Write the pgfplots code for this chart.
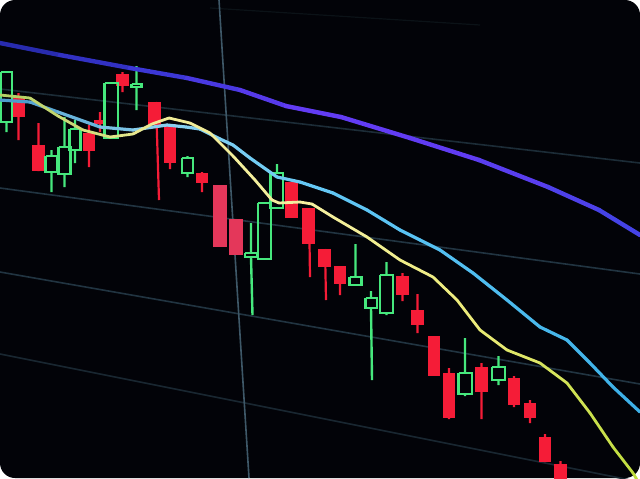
\documentclass[border=0pt]{standalone}
\usepackage{pgfplots}
\pgfplotsset{compat=1.18}
\definecolor{bg}{RGB}{2,3,8}
\definecolor{gridc}{RGB}{33,52,65}
\definecolor{gridv}{RGB}{62,88,104}
\definecolor{candred}{RGB}{245,28,55}
\definecolor{candpink}{RGB}{228,55,90}
\definecolor{candgreen}{RGB}{70,232,125}
\begin{document}
\begin{tikzpicture}
\begin{axis}[width=320pt,height=239pt,scale only axis,
  xmin=0,xmax=640,ymin=0,ymax=478,y dir=reverse,
  hide axis,clip=true,unbounded coords=jump]
\fill[bg, rounded corners=7.5pt] (rel axis cs:0,0) rectangle (rel axis cs:1,1);
% grid lines
\addplot[gridc!35!black, line width=0.6pt] coordinates {(210,8)(480,25)};
\addplot[gridc!85!black, line width=0.8pt] coordinates {(0,89)(640,163)};
\addplot[gridc, line width=0.8pt] coordinates {(0,188)(640,274)};
\addplot[gridc, line width=0.8pt] coordinates {(0,272)(640,384)};
\addplot[gridc!75!black, line width=0.8pt] coordinates {(0,354)(640,482)};
\addplot[gridv, line width=0.8pt] coordinates {(219,0)(249,478)};
% red wicks
\addplot[candred, line width=1.1pt] coordinates {
(18.5,93)(18.5,140)(0,nan)
(38.5,123)(38.5,171)(0,nan)
(89,125)(89,167)(0,nan)
(100,112)(100,132)(0,nan)
(122.5,72)(122.5,92)(0,nan)
(156,102)(159,200)(0,nan)
(170,124)(170,169)(0,nan)
(202,172)(202,192)(0,nan)
(309,208)(310,277)(0,nan)
(325,249)(326,300)(0,nan)
(340,266)(340,295)(0,nan)
(402.5,273)(402.5,301)(0,nan)
(417.5,294)(417.5,333)(0,nan)
(449,368)(449,419)(0,nan)
(481.5,363)(481.5,419)(0,nan)
(514,376)(514,407)(0,nan)
(530,400)(530,423)(0,nan)
(545,434)(545,462)(0,nan)
(560.5,461)(560.5,480)};
% red bodies
\addplot[candred, line width=6.4pt, line cap=butt] coordinates {
(18.5,96)(18.5,117)(0,nan)
(38.5,145)(38.5,171)(0,nan)
(89,133)(89,151)(0,nan)
(100,120)(100,123.5)(0,nan)
(122.5,74)(122.5,86)(0,nan)
(154.5,102)(154.5,125)(0,nan)
(170,124)(170,163)(0,nan)
(202,173)(202,183)(0,nan)
(291.5,182)(291.5,218)(0,nan)
(308.5,208)(308.5,244)(0,nan)
(324.5,249)(324.5,267)(0,nan)
(340,266)(340,284)(0,nan)
(402.5,276)(402.5,295)(0,nan)
(417.5,310)(417.5,325)(0,nan)
(434,336)(434,376)(0,nan)
(449,373)(449,418)(0,nan)
(481.5,367)(481.5,392)(0,nan)
(514,378)(514,405)(0,nan)
(530,403)(530,418)(0,nan)
(545,437)(545,462)(0,nan)
(560.5,464)(560.5,480)};
\addplot[candpink, line width=7pt, line cap=butt] coordinates {
(219.5,185)(219.5,247)(0,nan)
(235.5,219)(235.5,255)};
% green wicks
\addplot[candgreen, line width=1.2pt] coordinates {
(6.5,122)(6.5,132)(0,nan)
(51.5,150)(51.5,156)(0,nan)(51.5,172)(51.5,192)(0,nan)
(64.5,117)(64.5,147)(0,nan)(64.5,174)(64.5,187)(0,nan)
(75,120)(75,129)(0,nan)(75,150)(75,163)(0,nan)
(136.5,66)(136.5,83)(0,nan)(136.5,87)(136.5,110)(0,nan)
(187.5,156)(187.5,158)(0,nan)(187.5,173)(187.5,177)(0,nan)
(251,223)(251,253)(0,nan)(251,257)(252.5,315)(0,nan)
(277,164)(277,173)(0,nan)
(355.5,244)(355.5,277)(0,nan)
(371,291)(371,298)(0,nan)(371,308)(372,380)(0,nan)
(386.5,262)(386.5,275)(0,nan)(386.5,313)(386.5,315)(0,nan)
(465,338)(465,373)(0,nan)(465,394)(465,396)(0,nan)
(498.5,356)(498.5,367)(0,nan)(498.5,380)(498.5,385)};
% green hollow bodies
\addplot[candgreen, line width=1.1pt, line join=miter] coordinates {
(1,72)(12,72)(12,122)(1,122)(1,72)(0,nan)
(45.5,156)(57.5,156)(57.5,172)(45.5,172)(45.5,156)(0,nan)
(58.5,147)(70.5,147)(70.5,174)(58.5,174)(58.5,147)(0,nan)
(69.5,129)(80.5,129)(80.5,150)(69.5,150)(69.5,129)(0,nan)
(104.5,83)(118,83)(118,138)(104.5,138)(104.5,83)(0,nan)
(131.5,84)(141.5,84)(141.5,87)(131.5,87)(131.5,84)(0,nan)
(182,158)(193,158)(193,173)(182,173)(182,158)(0,nan)
(245,253)(257,253)(257,257)(245,257)(245,253)(0,nan)
(258,203)(271,203)(271,259)(258,259)(258,203)(0,nan)
(270.5,173)(283,173)(283,208)(270.5,208)(270.5,173)(0,nan)
(349.5,277)(361.5,277)(361.5,285)(349.5,285)(349.5,277)(0,nan)
(365.5,298)(377,298)(377,308)(365.5,308)(365.5,298)(0,nan)
(380,275)(393,275)(393,313)(380,313)(380,275)(0,nan)
(458.5,373)(472,373)(472,394)(458.5,394)(458.5,373)(0,nan)
(492,367)(505,367)(505,380)(492,380)(492,367)};
% moving averages
\addplot[mesh, point meta=x, line width=2.2pt, line cap=round,
  colormap={pur}{rgb255=(35,40,165) rgb255=(60,55,215) rgb255=(100,60,245) rgb255=(95,60,242) rgb255=(65,68,228)}]
  coordinates {(0,43)(60,55)(130,68)(187,78)(240,90)(286,106)(341,117)(410,138)(479,160)(548,187)(599,210)(640,235)};
\addplot[mesh, point meta=x, line width=1.6pt, line cap=round,
  colormap={cya}{rgb255=(70,150,200) rgb255=(140,210,240) rgb255=(100,200,245) rgb255=(80,190,240) rgb255=(60,175,230)}]
  coordinates {(0,100)(30,102)(58,112)(100,127)(133,130)(167,125)(186,127)(200,129)(220,139)(233,145)(250,158)(277,177)(300,182)(333,193)(367,210)(400,230)(420,240)(440,250)(473,273)(507,300)(540,327)(567,340)(590,363)(613,387)(640,412)};
\addplot[mesh, point meta=x, line width=1.4pt, line cap=round,
  colormap={yel}{rgb255=(175,205,95) rgb255=(240,235,150) rgb255=(245,240,160) rgb255=(235,235,120) rgb255=(190,220,60)}]
  coordinates {(0,95)(30,98)(58,116)(83,130)(110,137)(133,134)(152,124)(169,118)(190,123)(210,133)(233,156)(255,180)(272,200)(279,203)(300,202)(312,204)(333,217)(367,237)(400,260)(433,277)(457,300)(480,330)(507,350)(540,363)(567,383)(590,413)(613,447)(633,473)(640,485)};
\end{axis}
\end{tikzpicture}
\end{document}
